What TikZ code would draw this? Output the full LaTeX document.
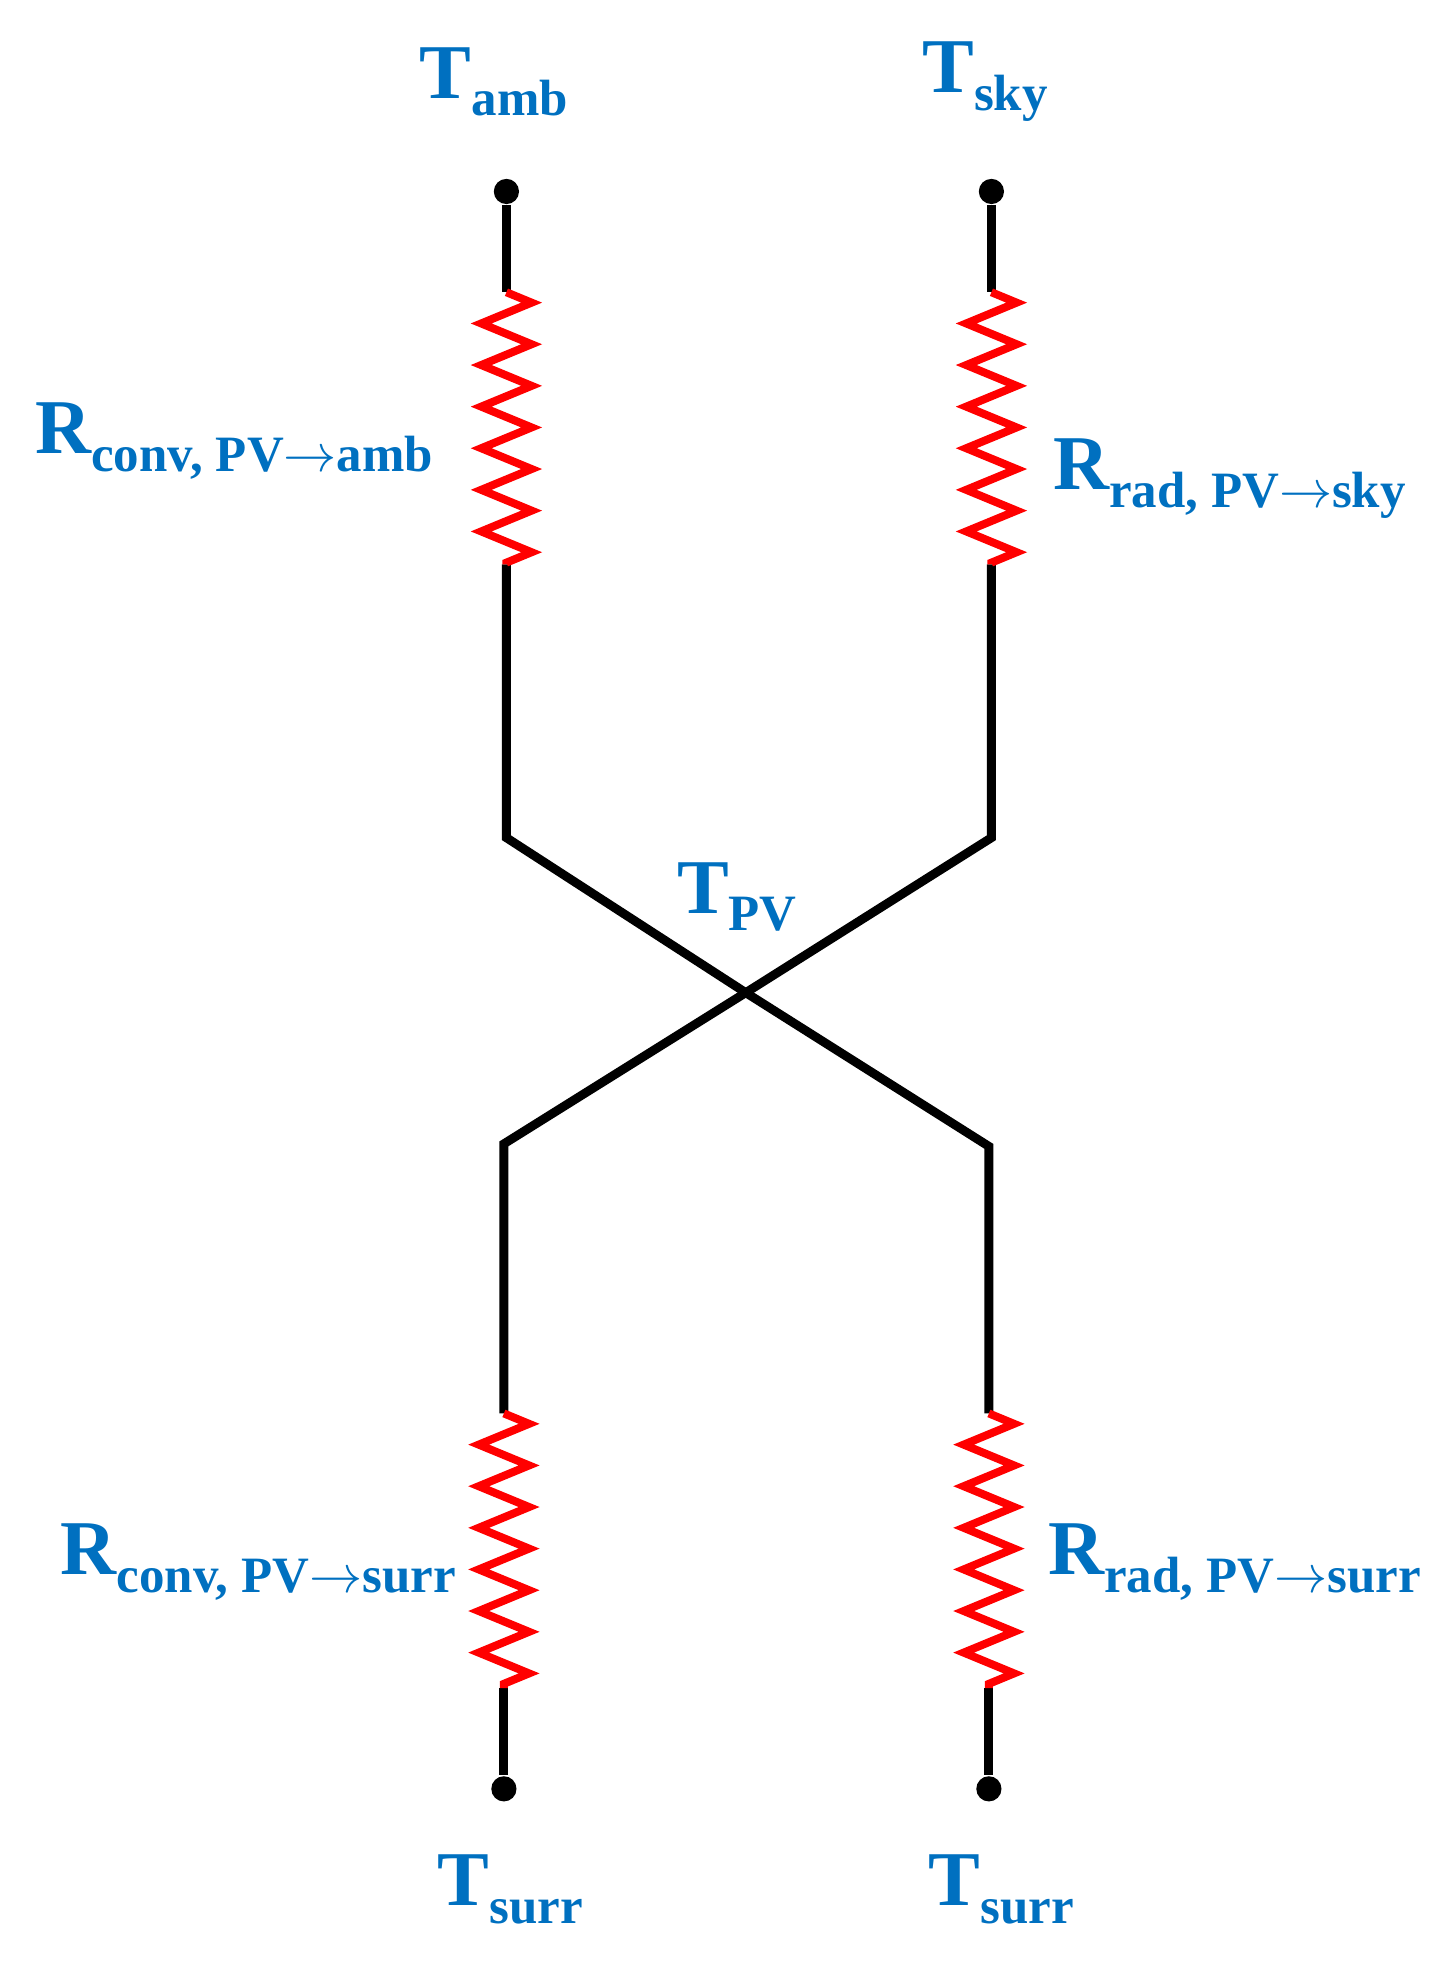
\documentclass[tikz,border=0pt]{standalone}
\usepackage{fontspec}
\setmainfont{Liberation Serif}
\usetikzlibrary{decorations.pathmorphing}
\definecolor{lblblue}{RGB}{0,112,192}
\tikzset{
  wire/.style={line width=2pt, black},
  res/.style={line width=1.8pt, red, decorate, decoration={zigzag, segment length=0.33cm, amplitude=0.2cm}},
  term/.style={circle, fill=black, inner sep=0pt, minimum size=0.2cm},
  lbl/.style={text=lblblue, font=\fontsize{17.5}{20}\selectfont\bfseries}
}
\newcommand{\sub}[1]{\raisebox{-0.5ex}{\fontsize{11.5}{14}\selectfont #1}}
\begin{document}
\begin{tikzpicture}[x=0.01cm,y=-0.01cm]
            \useasboundingbox (0,0) rectangle (1145,1567);
            % terminals
            \node[term] (ta) at (402,152) {};
            \node[term] (ts) at (787,152) {};
            \node[term] (bl) at (400,1420) {};
            \node[term] (br) at (785,1420) {};
            % corners and centre
            \coordinate (ra1) at (402,232); \coordinate (ra2) at (402,448);
            \coordinate (rs1) at (787,232); \coordinate (rs2) at (787,448);
            \coordinate (rl1) at (400,1122); \coordinate (rl2) at (400,1340);
            \coordinate (rr1) at (785,1122); \coordinate (rr2) at (785,1340);
            \coordinate (ka) at (402,665); \coordinate (ks) at (787,665);
            \coordinate (kl) at (400,908); \coordinate (kr) at (785,910);
            \coordinate (pv) at (592,788);
            % wires
            \draw[wire] (ta) -- (ra1);
            \draw[wire] (ts) -- (rs1);
            \draw[wire] (ra2) -- (ka) -- (pv) -- (kr) -- (rr1);
            \draw[wire] (rs2) -- (ks) -- (pv) -- (kl) -- (rl1);
            \draw[wire] (rl2) -- (bl);
            \draw[wire] (rr2) -- (br);
            % resistors
            \draw[res] (ra1) -- (ra2);
            \draw[res] (rs1) -- (rs2);
            \draw[res] (rl1) -- (rl2);
            \draw[res] (rr1) -- (rr2);
            % labels
            \node[lbl] (lamb) at (392,65) {T\sub{amb}};
            \node[lbl] (lsky) at (782,65) {T\sub{sky}};
            \node[lbl] (lpv) at (585,712) {T\sub{PV}};
            \node[lbl] (lra) at (186,350) {R\sub{conv, PV$\rightarrow$amb}};
            \node[lbl] (lrs) at (976,380) {R\sub{rad, PV$\rightarrow$sky}};
            \node[lbl] (lrl) at (205,1240) {R\sub{conv, PV$\rightarrow$surr}};
            \node[lbl] (lrr) at (980,1240) {R\sub{rad, PV$\rightarrow$surr}};
            \node[lbl] (lsl) at (405,1500) {T\sub{surr}};
            \node[lbl] (lsr) at (795,1500) {T\sub{surr}};
\end{tikzpicture}
\end{document}
